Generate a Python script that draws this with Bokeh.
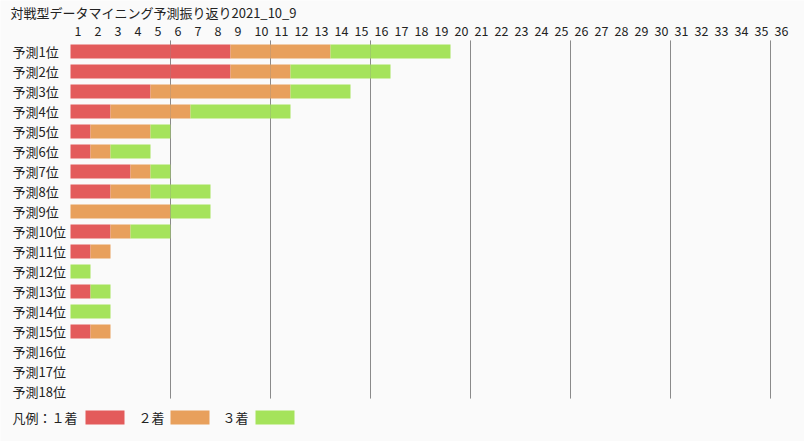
from bokeh.plotting import figure
from bokeh.models import Range1d, ColumnDataSource
from bokeh.core.properties import value
from bokeh.embed import file_html
from bokeh.resources import INLINE

title = "対戦型データマイニング予測振り返り2021_10_9"
categories = ["予測%d位" % i for i in range(1, 19)]
first = [8, 8, 4, 2, 1, 1, 3, 2, 0, 2, 1, 0, 1, 0, 1, 0, 0, 0]
second = [5, 3, 7, 4, 3, 1, 1, 2, 5, 1, 1, 0, 0, 0, 1, 0, 0, 0]
third = [6, 5, 3, 5, 1, 2, 1, 3, 2, 2, 0, 1, 1, 2, 0, 0, 0, 0]
tick_labels = [str(k) for k in range(1, 37)]
grid_values = [5, 10, 15, 20, 25, 30, 35]
series_names = ["１着", "２着", "３着"]
colors = ["#E35B5B", "#E8A05C", "#A5E35B"]
legend_prefix = "凡例："

FONT = value("Noto Sans CJK JP")
BG = "#fafafa"

W, H = 804, 441
p = figure(width=W, height=H, output_backend="svg", toolbar_location=None,
           x_axis_type=None, y_axis_type=None,
           x_range=Range1d(-3.5, -3.5 + W / 20.0),
           y_range=Range1d(-2.55 + H / 20.0, -2.55),
           min_border=0, outline_line_color=None,
           background_fill_color=BG, border_fill_color=BG)
p.xgrid.visible = False
p.ygrid.visible = False

rows = list(range(len(categories)))

# gridlines
p.segment(x0=grid_values, x1=grid_values, y0=[-0.55] * len(grid_values),
          y1=[17.35] * len(grid_values), line_color="#8a8a8a", line_width=1)

# stacked bars
l1 = [0] * len(rows)
r1 = [a for a in first]
r2 = [a + b for a, b in zip(first, second)]
r3 = [a + b + c for a, b, c in zip(first, second, third)]
for left, right, c in [(l1, r1, colors[0]), (r1, r2, colors[1]), (r2, r3, colors[2])]:
    src = ColumnDataSource(dict(y=rows, left=left, right=right))
    p.hbar(y="y", left="left", right="right", height=0.7, source=src,
           fill_color=c, line_color=None)

# faint gridline overlay
p.segment(x0=grid_values, x1=grid_values, y0=[-0.55] * len(grid_values),
          y1=[17.35] * len(grid_values), line_color="#8a8a8a", line_width=1, line_alpha=0.25)

# row labels
p.text(x=[-2.9] * len(rows), y=rows, text=categories, text_font=FONT,
       text_font_size="13px", text_baseline="middle", text_align="left", text_color="#222222")

# top tick labels
p.text(x=[k - 1 + 0.2 for k in range(1, 37)], y=[-1.05] * 36, text=tick_labels,
       text_font=FONT, text_font_size="12.5px", text_baseline="middle",
       text_align="left", text_color="#222222")

# title
p.text(x=[-3.0], y=[-1.95], text=[title], text_font=FONT, text_font_size="13px",
       text_baseline="middle", text_align="left", text_color="#222222")

# legend
p.text(x=[-2.9, 3.4, 7.6], y=[18.3] * 3,
       text=[legend_prefix + series_names[0], series_names[1], series_names[2]],
       text_font=FONT, text_font_size="13px", text_baseline="middle",
       text_align="left", text_color="#222222")
p.quad(left=[0.75, 5.0, 9.25], right=[2.7, 6.95, 11.2], top=[17.95] * 3,
       bottom=[18.65] * 3, fill_color=colors, line_color=None)

html = file_html(p, INLINE)
html = html.replace("<body>", '<body style="background:%s">' % BG, 1)
open("out.html", "w").write(html)
